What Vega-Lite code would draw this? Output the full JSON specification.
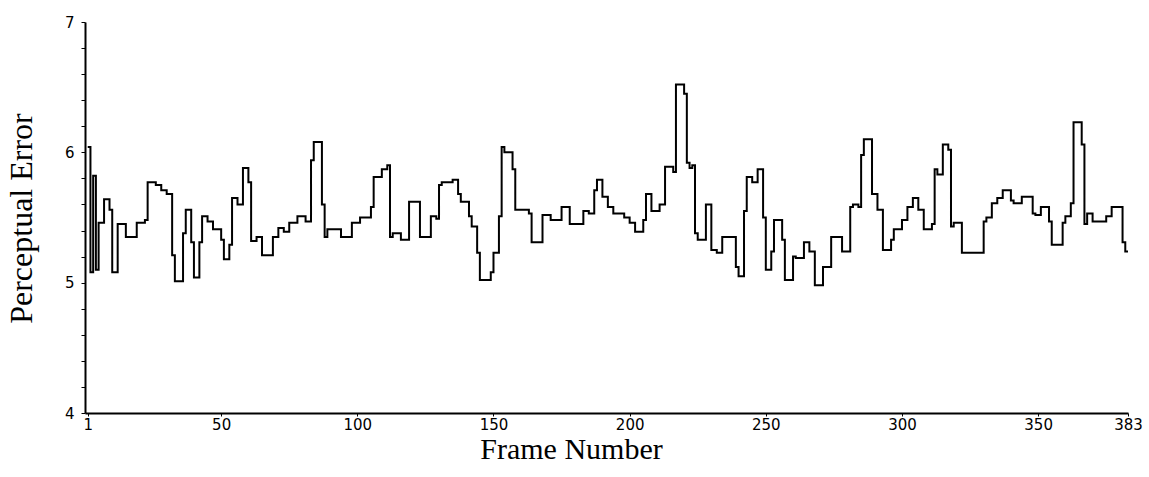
{
  "$schema": "https://vega.github.io/schema/vega-lite/v6.json",
  "width": 1043,
  "height": 391,
  "autosize": {"type": "none"},
  "padding": {"left": 85, "top": 22, "right": 21, "bottom": 64},
  "background": "white",
  "config": {"view": {"stroke": null}},
  "data": {"values": [
    {"frame":1,"error":6.04},{"frame":2,"error":5.08},{"frame":3,"error":5.82},{"frame":4,"error":5.10},{"frame":5,"error":5.46},
    {"frame":7,"error":5.64},{"frame":9,"error":5.56},{"frame":10,"error":5.08},{"frame":12,"error":5.45},{"frame":15,"error":5.35},
    {"frame":19,"error":5.46},{"frame":22,"error":5.48},{"frame":23,"error":5.77},{"frame":26,"error":5.75},{"frame":28,"error":5.71},
    {"frame":30,"error":5.68},{"frame":32,"error":5.21},{"frame":33,"error":5.01},{"frame":36,"error":5.38},{"frame":37,"error":5.56},
    {"frame":39,"error":5.31},{"frame":40,"error":5.04},{"frame":42,"error":5.31},{"frame":43,"error":5.51},{"frame":45,"error":5.47},
    {"frame":47,"error":5.41},{"frame":50,"error":5.33},{"frame":51,"error":5.18},{"frame":53,"error":5.29},{"frame":54,"error":5.65},
    {"frame":56,"error":5.60},{"frame":58,"error":5.88},{"frame":60,"error":5.77},{"frame":61,"error":5.32},{"frame":63,"error":5.35},
    {"frame":65,"error":5.21},{"frame":69,"error":5.35},{"frame":71,"error":5.42},{"frame":73,"error":5.39},{"frame":75,"error":5.46},
    {"frame":78,"error":5.51},{"frame":81,"error":5.47},{"frame":83,"error":5.94},{"frame":84,"error":6.08},{"frame":87,"error":5.60},
    {"frame":88,"error":5.35},{"frame":89,"error":5.41},{"frame":94,"error":5.35},{"frame":98,"error":5.46},{"frame":101,"error":5.50},
    {"frame":105,"error":5.58},{"frame":106,"error":5.81},{"frame":109,"error":5.87},{"frame":111,"error":5.90},{"frame":112,"error":5.35},
    {"frame":113,"error":5.38},{"frame":116,"error":5.33},{"frame":119,"error":5.62},{"frame":123,"error":5.35},{"frame":127,"error":5.51},
    {"frame":129,"error":5.49},{"frame":130,"error":5.75},{"frame":131,"error":5.77},{"frame":135,"error":5.79},{"frame":137,"error":5.68},
    {"frame":138,"error":5.62},{"frame":141,"error":5.51},{"frame":142,"error":5.43},{"frame":144,"error":5.23},{"frame":145,"error":5.02},
    {"frame":149,"error":5.08},{"frame":150,"error":5.23},{"frame":152,"error":5.51},{"frame":153,"error":6.04},{"frame":154,"error":6.00},
    {"frame":157,"error":5.87},{"frame":158,"error":5.56},{"frame":163,"error":5.53},{"frame":164,"error":5.31},{"frame":168,"error":5.52},
    {"frame":171,"error":5.48},{"frame":175,"error":5.58},{"frame":178,"error":5.45},{"frame":183,"error":5.55},{"frame":185,"error":5.53},
    {"frame":187,"error":5.71},{"frame":188,"error":5.79},{"frame":190,"error":5.66},{"frame":192,"error":5.58},{"frame":194,"error":5.53},
    {"frame":198,"error":5.50},{"frame":200,"error":5.46},{"frame":202,"error":5.39},{"frame":205,"error":5.48},{"frame":206,"error":5.68},
    {"frame":208,"error":5.55},{"frame":211,"error":5.60},{"frame":213,"error":5.89},{"frame":216,"error":5.85},{"frame":217,"error":6.52},
    {"frame":220,"error":6.45},{"frame":221,"error":5.92},{"frame":222,"error":5.88},{"frame":223,"error":5.90},{"frame":224,"error":5.38},
    {"frame":225,"error":5.33},{"frame":228,"error":5.60},{"frame":230,"error":5.25},{"frame":232,"error":5.23},{"frame":234,"error":5.35},
    {"frame":239,"error":5.12},{"frame":240,"error":5.05},{"frame":242,"error":5.55},{"frame":243,"error":5.81},{"frame":245,"error":5.77},
    {"frame":247,"error":5.87},{"frame":249,"error":5.50},{"frame":250,"error":5.10},{"frame":252,"error":5.24},{"frame":253,"error":5.48},
    {"frame":256,"error":5.33},{"frame":257,"error":5.02},{"frame":260,"error":5.20},{"frame":261,"error":5.19},{"frame":264,"error":5.31},
    {"frame":266,"error":5.24},{"frame":268,"error":4.98},{"frame":271,"error":5.12},{"frame":274,"error":5.35},{"frame":278,"error":5.24},
    {"frame":281,"error":5.58},{"frame":282,"error":5.60},{"frame":284,"error":5.58},{"frame":285,"error":5.98},{"frame":286,"error":6.10},
    {"frame":289,"error":5.68},{"frame":291,"error":5.56},{"frame":293,"error":5.25},{"frame":296,"error":5.33},{"frame":297,"error":5.41},
    {"frame":300,"error":5.48},{"frame":302,"error":5.58},{"frame":304,"error":5.65},{"frame":306,"error":5.56},{"frame":308,"error":5.41},
    {"frame":311,"error":5.45},{"frame":312,"error":5.87},{"frame":313,"error":5.83},{"frame":315,"error":6.06},{"frame":317,"error":6.02},
    {"frame":318,"error":5.43},{"frame":319,"error":5.46},{"frame":322,"error":5.23},{"frame":330,"error":5.47},{"frame":331,"error":5.50},
    {"frame":333,"error":5.61},{"frame":335,"error":5.65},{"frame":337,"error":5.71},{"frame":340,"error":5.63},{"frame":341,"error":5.61},
    {"frame":344,"error":5.66},{"frame":348,"error":5.53},{"frame":349,"error":5.52},{"frame":351,"error":5.58},{"frame":354,"error":5.47},
    {"frame":355,"error":5.29},{"frame":359,"error":5.46},{"frame":360,"error":5.51},{"frame":362,"error":5.61},{"frame":363,"error":6.23},
    {"frame":366,"error":6.06},{"frame":367,"error":5.45},{"frame":368,"error":5.53},{"frame":370,"error":5.47},{"frame":375,"error":5.51},
    {"frame":377,"error":5.58},{"frame":381,"error":5.31},{"frame":382,"error":5.24},{"frame":383,"error":5.24}
  ]},
  "mark": {"type": "line", "interpolate": "step-after", "color": "black", "strokeWidth": 2},
  "encoding": {
    "x": {
      "field": "frame", "type": "quantitative",
      "scale": {"domain": [0, 383], "nice": false, "zero": false},
      "axis": {
        "values": [1, 50, 100, 150, 200, 250, 300, 350, 383],
        "grid": false, "domainColor": "black", "domainWidth": 2, "tickColor": "black", "tickSize": 3, "tickWidth": 1,
        "labelFont": "DejaVu Sans", "labelFontSize": 15, "labelColor": "black", "labelPadding": 1, "labelFlush": false,
        "title": "Frame Number", "titleFont": "Liberation Serif", "titleFontSize": 30, "titleFontWeight": "normal", "titleColor": "black",
        "titleBaseline": "alphabetic", "titleY": 45, "titleX": 486, "titleAlign": "center"
      }
    },
    "y": {
      "field": "error", "type": "quantitative",
      "scale": {"domain": [4, 7], "nice": false, "zero": false},
      "axis": {
        "values": [4, 4.2, 4.4, 4.6, 4.8, 5, 5.2, 5.4, 5.6, 5.8, 6, 6.2, 6.4, 6.6, 6.8, 7],
        "labelExpr": "datum.value % 1 === 0 ? format(datum.value, 'd') : ''",
        "grid": false, "domainColor": "black", "domainWidth": 2, "tickColor": "black", "tickSize": 4, "tickWidth": 1,
        "labelFont": "DejaVu Sans", "labelFontSize": 15, "labelColor": "black", "labelPadding": 7,
        "title": "Perceptual Error", "titleFont": "Liberation Serif", "titleFontSize": 32, "titleFontWeight": "normal", "titleColor": "black",
        "titleBaseline": "alphabetic", "titleX": -54, "titleY": 196, "titleAngle": -90, "titleAlign": "center"
      }
    }
  }
}
